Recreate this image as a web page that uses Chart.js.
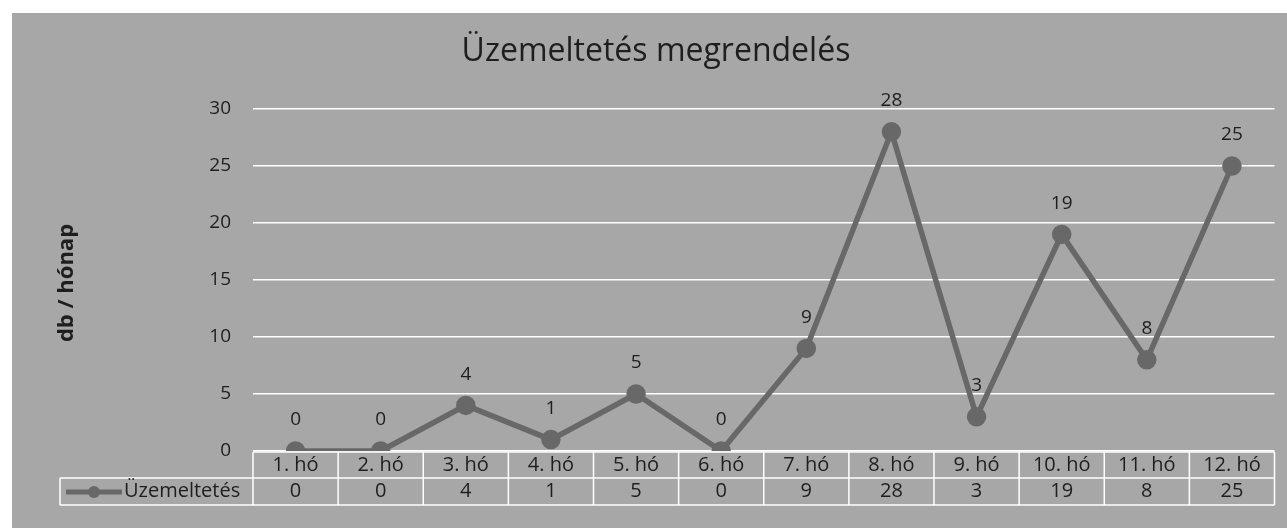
<!DOCTYPE html>
<html>
<head>
<meta charset="utf-8">
<script src="https://cdn.jsdelivr.net/npm/chart.js@4"></script>
<style>
  html, body { margin: 0; padding: 0; background: #fff; }
  #wrap { width: 1287px; height: 531px; }
</style>
</head>
<body>
<div id="wrap"><canvas id="uzemChart" width="1287" height="531"></canvas></div>
<script>
const categories = ['1. hó', '2. hó', '3. hó', '4. hó', '5. hó', '6. hó', '7. hó', '8. hó', '9. hó', '10. hó', '11. hó', '12. hó'];
const uzemeltetes = [0, 0, 4, 1, 5, 0, 9, 28, 3, 19, 8, 25];
const seriesName = 'Üzemeltetés';
const chartTitle = 'Üzemeltetés megrendelés';
const yAxisTitle = 'db / hónap';
const yTicks = [0, 5, 10, 15, 20, 25, 30];

const FONT = "'Open Sans', sans-serif";
const LINE = '#686868';
const TEXT = '#1e1e1e';

// gray panel, title, axis title
const backdrop = {
    id: 'backdrop',
    beforeDraw(chart) {
        const c = chart.ctx;
        c.save();
        c.fillStyle = '#a7a7a7';
        c.fillRect(12, 13, 1275, 515);
        c.fillStyle = TEXT;
        c.font = '32px ' + FONT;
        c.textAlign = 'center';
        c.textBaseline = 'middle';
        c.fillText(chartTitle, 656, 52);
        c.translate(67, 283);
        c.rotate(-Math.PI / 2);
        c.font = 'bold 22px ' + FONT;
        c.fillText(yAxisTitle, 0, 0);
        c.restore();
    }
};

// data table under the plot
const dataTable = {
    id: 'dataTable',
    afterDraw(chart) {
        const c = chart.ctx;
        const area = chart.chartArea;
        const x = chart.scales.x;
        const top = area.bottom + 1;
        const mid = top + 26;
        const bot = mid + 27;
        const legendLeft = 60;
        c.save();
        c.strokeStyle = '#ffffff';
        c.lineWidth = 1.5;
        c.beginPath();
        c.moveTo(area.left, top); c.lineTo(area.right, top);
        c.moveTo(legendLeft, mid); c.lineTo(area.right, mid);
        c.moveTo(legendLeft, bot); c.lineTo(area.right, bot);
        c.moveTo(legendLeft, mid); c.lineTo(legendLeft, bot);
        const step = (area.right - area.left) / categories.length;
        for (let i = 0; i <= categories.length; i++) {
            const gx = area.left + i * step;
            c.moveTo(gx, top); c.lineTo(gx, bot);
        }
        c.stroke();

        c.fillStyle = TEXT;
        c.font = '20px ' + FONT;
        c.textAlign = 'center';
        c.textBaseline = 'middle';
        categories.forEach((cat, i) => {
            const px = x.getPixelForValue(i);
            c.fillText(cat, px, top + 13);
            c.fillText(String(uzemeltetes[i]), px, mid + 13);
        });

        // legend key
        c.strokeStyle = LINE;
        c.lineWidth = 5;
        c.beginPath();
        c.moveTo(66, mid + 14); c.lineTo(122, mid + 14);
        c.stroke();
        c.fillStyle = LINE;
        c.beginPath();
        c.arc(94, mid + 14, 6, 0, Math.PI * 2);
        c.fill();
        c.fillStyle = TEXT;
        c.textAlign = 'left';
        c.fillText(seriesName, 124, mid + 13);
        c.restore();
    }
};

// value labels above points
const pointLabels = {
    id: 'pointLabels',
    afterDatasetsDraw(chart) {
        const c = chart.ctx;
        const meta = chart.getDatasetMeta(0);
        c.save();
        c.fillStyle = TEXT;
        c.font = '19px ' + FONT;
        c.textAlign = 'center';
        c.textBaseline = 'middle';
        meta.data.forEach((pt, i) => {
            c.fillText(String(uzemeltetes[i]), pt.x, pt.y - 31);
        });
        c.restore();
    }
};

const ctx = document.getElementById('uzemChart');

new Chart(ctx, {
    type: 'line',
    data: {
        labels: categories,
        datasets: [{
            label: seriesName,
            data: uzemeltetes,
            borderColor: LINE,
            backgroundColor: LINE,
            borderWidth: 5.5,
            pointRadius: 7,
            pointHoverRadius: 7,
            pointBackgroundColor: LINE,
            pointBorderColor: LINE,
            tension: 0
        }]
    },
    options: {
        responsive: false,
        animation: false,
        layout: {
            padding: { top: 109, left: 0, right: 0, bottom: 80 }
        },
        scales: {
            x: {
                display: false,
                offset: true
            },
            y: {
                min: 0,
                max: 30,
                afterBuildTicks(axis) {
                    axis.ticks = yTicks.map(v => ({ value: v }));
                },
                afterFit(axis) {
                    axis.width = 253;
                },
                border: { display: false },
                grid: {
                    color: '#ffffff',
                    lineWidth: 1.5,
                    drawTicks: false
                },
                ticks: {
                    padding: 22,
                    color: TEXT,
                    font: { size: 19, family: FONT }
                }
            }
        },
        plugins: {
            legend: { display: false },
            title: { display: false },
            tooltip: { enabled: false }
        }
    },
    plugins: [backdrop, dataTable, pointLabels]
});
</script>
</body>
</html>
